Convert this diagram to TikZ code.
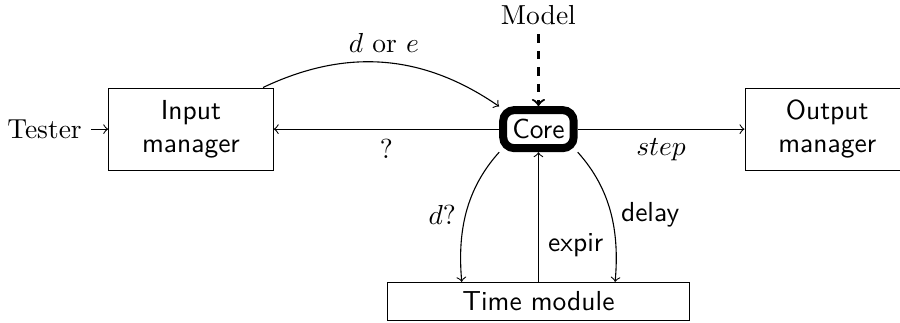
\documentclass[tikz,border=0pt]{standalone}
\usetikzlibrary{arrows}

\begin{document}
\begin{tikzpicture}[
    box/.style={draw, minimum width=2.1cm, minimum height=1.05cm, align=center, font=\sffamily},
    core/.style={draw, line width=2.9pt, rounded corners=4pt, font=\sffamily},
    wide/.style={draw, minimum width=3.86cm, font=\sffamily},
    arrow/.style={->}
]
\useasboundingbox (-6.88,-2.47) rectangle (4.62,1.65);

% Nodes
\node[core] (core) at (0,0) {Core};
\node[box] (in) at (-4.44,0) {Input\\manager};
\node[box] (out) at (3.69,0) {Output\\manager};
\node[wide] (time) at (0,-2.2) {Time module};
\node (model) at (0,1.46) {Model};
\node (tester) at (-6.31,0) {Tester};

% Inputs
\draw[arrow] (tester) -- (in);
\draw[arrow, thick, dashed] (model) -- (core);
\draw[arrow] (in) to[bend left=30] node[above] {$d$ or $e$} (core);

% Core outputs
\draw[arrow] (core) -- node[below] {?} (in);
\draw[arrow] (core) -- node[below] {$step$} (out);

% Time module
\draw[arrow] (core.south west) to[out=-132, in=95, looseness=0.95] node[left, pos=0.52] {$d$?} ([xshift=-0.98cm]time.north);
\draw[arrow] (core.south east) to[out=-48, in=85, looseness=0.95] node[right, pos=0.52] {\sffamily delay} ([xshift=0.98cm]time.north);
\draw[arrow] (time) -- node[pos=0.28, right] {\sffamily expir} (core);

\end{tikzpicture}
\end{document}
